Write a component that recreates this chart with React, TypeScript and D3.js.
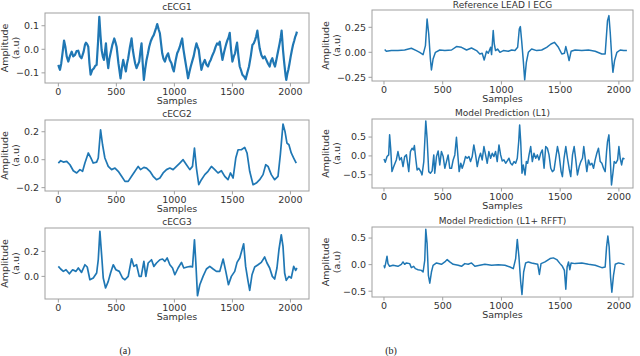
import React from 'react';
import * as d3 from 'd3';

type Pt = [number, number];

const xTicks = [0, 500, 1000, 1500, 2000];

// [sample, amplitude]
const cecg1: Pt[] = [[0,-0.066],[7,-0.078],[14,-0.087],[25,-0.06],[35,-0.02],[49,0.037],[60,0.012],[72,-0.03],[86,-0.052],[100,-0.028],[115,-0.010],[128,-0.03],[143,-0.024],[157,-0.008],[172,-0.006],[186,-0.03],[200,-0.038],[218,-0.01],[230,0.02],[238,0.028],[248,0.022],[258,0.011],[268,-0.06],[278,-0.108],[292,-0.088],[307,-0.080],[318,-0.07],[330,-0.066],[342,0.03],[353,0.138],[363,0.06],[373,-0.003],[383,-0.03],[393,-0.045],[402,-0.01],[410,0.025],[420,-0.04],[430,-0.080],[440,-0.04],[450,-0.017],[466,0.02],[482,0.046],[492,0.03],[502,0.011],[518,-0.06],[536,-0.123],[547,-0.08],[559,-0.045],[570,-0.07],[582,-0.094],[592,-0.06],[602,-0.038],[617,0.01],[631,0.046],[641,0.0],[651,-0.031],[662,-0.06],[674,-0.080],[686,-0.065],[697,-0.052],[707,-0.01],[717,0.025],[727,-0.06],[737,-0.130],[748,-0.085],[760,-0.045],[771,-0.02],[783,0.011],[797,0.035],[811,0.051],[822,0.06],[832,0.075],[842,0.09],[852,0.107],[864,0.085],[875,0.068],[885,0.025],[895,-0.017],[906,-0.04],[918,-0.052],[932,-0.03],[946,-0.017],[960,-0.045],[975,-0.059],[985,-0.08],[995,-0.094],[1010,-0.05],[1024,-0.017],[1035,-0.005],[1047,0.011],[1057,0.03],[1067,0.046],[1078,0.0],[1090,-0.038],[1104,-0.08],[1118,-0.123],[1130,-0.095],[1141,-0.073],[1154,-0.05],[1167,-0.028],[1178,0.0],[1190,0.025],[1200,0.01],[1210,-0.003],[1222,-0.05],[1233,-0.087],[1248,-0.06],[1262,-0.045],[1276,-0.065],[1290,-0.073],[1302,-0.055],[1313,-0.045],[1328,-0.025],[1342,-0.010],[1355,0.01],[1368,0.025],[1380,0.02],[1391,0.032],[1403,-0.01],[1414,-0.045],[1427,-0.015],[1440,0.011],[1448,0.025],[1457,0.039],[1467,0.05],[1477,0.070],[1488,0.0],[1500,-0.052],[1512,-0.03],[1523,-0.017],[1532,0.01],[1540,0.028],[1552,-0.03],[1563,-0.073],[1575,-0.09],[1586,-0.108],[1600,-0.115],[1614,-0.127],[1628,-0.1],[1643,-0.073],[1658,-0.03],[1672,0.018],[1684,0.025],[1695,0.039],[1705,0.055],[1715,0.079],[1725,0.04],[1735,0.004],[1750,-0.025],[1764,-0.038],[1778,-0.03],[1792,-0.045],[1806,-0.06],[1821,-0.073],[1832,-0.05],[1844,-0.038],[1856,-0.06],[1867,-0.073],[1877,-0.05],[1887,-0.024],[1897,0.0],[1907,0.025],[1916,0.05],[1924,0.079],[1930,0.04],[1936,-0.003],[1945,-0.05],[1953,-0.087],[1958,-0.11],[1964,-0.130],[1973,-0.105],[1982,-0.087],[1992,-0.06],[2002,-0.031],[2012,-0.005],[2022,0.018],[2032,0.035],[2042,0.054],[2049,0.062],[2056,0.075]];

const cecg2: Pt[] = [[0,-0.024],[20,-0.007],[43,-0.017],[72,-0.012],[100,-0.036],[129,-0.079],[158,-0.095],[186,-0.071],[209,-0.083],[229,-0.024],[258,0.048],[278,0.017],[301,-0.024],[330,-0.017],[344,0.012],[364,0.214],[381,0.107],[401,0.012],[430,-0.048],[459,-0.071],[488,-0.060],[516,-0.083],[545,-0.119],[574,-0.155],[602,-0.155],[631,-0.119],[660,-0.083],[688,-0.048],[708,-0.071],[737,-0.055],[760,-0.060],[789,-0.083],[817,-0.119],[846,-0.143],[875,-0.131],[903,-0.095],[932,-0.071],[961,-0.060],[989,-0.071],[1018,-0.048],[1047,-0.024],[1075,0.0],[1104,-0.036],[1133,-0.071],[1156,-0.048],[1173,0.083],[1190,-0.060],[1210,-0.179],[1233,-0.143],[1262,-0.107],[1290,-0.083],[1319,-0.048],[1348,-0.071],[1376,-0.095],[1405,-0.079],[1434,-0.119],[1462,-0.143],[1483,-0.095],[1506,-0.131],[1529,0.012],[1549,0.071],[1577,0.071],[1606,0.088],[1626,0.048],[1649,-0.083],[1678,-0.179],[1706,-0.167],[1735,-0.143],[1764,-0.107],[1787,-0.036],[1807,-0.048],[1835,-0.107],[1864,-0.143],[1893,-0.119],[1913,0.036],[1936,0.255],[1953,0.202],[1970,0.119],[1987,0.107],[2007,0.048],[2028,0.012],[2050,-0.024]];

const cecg3: Pt[] = [[0,0.080],[20,0.059],[43,0.040],[66,0.053],[95,0.021],[123,0.053],[152,0.040],[172,0.067],[200,0.032],[229,0.093],[249,0.075],[272,-0.027],[301,-0.013],[330,0.027],[344,0.133],[358,0.360],[376,0.133],[387,-0.013],[407,-0.093],[430,-0.040],[450,0.027],[473,0.093],[496,0.053],[525,0.040],[553,-0.013],[574,-0.027],[602,0.0],[631,0.141],[651,0.080],[674,0.093],[697,0.0],[714,0.0],[737,0.120],[754,0.0],[774,0.107],[803,0.133],[823,0.080],[846,0.107],[875,0.133],[898,0.139],[918,0.120],[938,0.147],[961,0.093],[984,0.067],[1004,0.013],[1032,0.067],[1061,0.112],[1081,0.067],[1110,0.075],[1139,0.080],[1156,0.075],[1173,0.293],[1185,0.107],[1199,-0.155],[1219,-0.067],[1247,0.0],[1276,0.059],[1305,0.080],[1334,0.059],[1362,0.040],[1391,0.040],[1420,0.139],[1443,0.040],[1466,-0.067],[1491,0.0],[1520,0.040],[1540,0.112],[1563,0.147],[1583,0.213],[1597,0.261],[1614,0.080],[1635,-0.040],[1649,-0.112],[1669,0.013],[1692,0.075],[1721,0.093],[1749,0.112],[1778,0.155],[1798,0.107],[1821,0.067],[1844,0.0],[1864,-0.021],[1884,0.067],[1901,0.213],[1921,0.333],[1936,0.240],[1950,0.027],[1964,-0.032],[1987,0.0],[2007,-0.013],[2028,0.080],[2045,0.048],[2056,0.067]];

const leadI: Pt[] = [[6,0.027],[20,0.010],[63,0.017],[119,0.017],[176,0.023],[233,0.040],[276,0.017],[304,0.0],[333,-0.023],[353,0.067],[367,0.333],[381,0.183],[395,-0.067],[404,-0.177],[418,-0.067],[438,0.0],[475,0.023],[518,0.017],[575,0.023],[617,0.057],[660,0.050],[703,0.023],[745,0.043],[788,0.017],[816,-0.017],[836,-0.010],[853,-0.077],[873,0.010],[888,-0.010],[908,0.050],[916,-0.023],[930,0.217],[939,0.083],[950,0.017],[967,0.033],[987,0.0],[1016,0.017],[1058,0.010],[1087,0.023],[1115,0.017],[1138,0.050],[1152,0.233],[1161,0.257],[1172,0.117],[1186,-0.083],[1198,-0.277],[1212,-0.100],[1229,0.0],[1257,0.033],[1300,0.017],[1343,0.023],[1385,0.050],[1422,0.083],[1451,0.100],[1485,0.050],[1514,-0.017],[1536,-0.010],[1548,0.057],[1565,-0.023],[1576,-0.083],[1593,0.010],[1627,0.023],[1684,0.017],[1741,0.023],[1798,0.010],[1855,-0.017],[1883,-0.017],[1903,0.317],[1915,0.367],[1926,0.200],[1940,-0.067],[1949,-0.200],[1963,-0.083],[1983,0.0],[2011,0.023],[2040,0.017],[2068,0.017]];

const predL1: Pt[] = [[0,-0.080],[11,-0.168],[26,-0.018],[40,0.027],[48,0.558],[57,0.204],[68,-0.416],[83,-0.283],[105,-0.106],[119,0.115],[134,-0.106],[148,-0.044],[162,-0.283],[176,-0.018],[191,0.027],[199,-0.150],[211,-0.416],[225,0.115],[239,0.204],[250,0.159],[259,0.274],[270,-0.062],[282,-0.372],[296,-0.327],[313,-0.416],[324,-0.504],[339,-0.150],[356,0.929],[367,0.469],[381,-0.416],[395,-0.460],[410,-0.398],[424,0.027],[432,-0.460],[447,-0.018],[461,0.133],[475,-0.239],[489,0.115],[504,-0.018],[518,-0.327],[532,-0.150],[546,0.027],[560,-0.327],[575,-0.327],[589,-0.106],[603,0.027],[617,0.496],[632,-0.106],[640,-0.416],[654,-0.195],[666,-0.327],[680,-0.195],[694,-0.018],[708,-0.062],[723,-0.018],[737,-0.150],[751,-0.018],[765,0.292],[780,0.027],[794,-0.283],[808,-0.062],[822,0.071],[836,-0.106],[851,0.248],[865,0.027],[879,-0.195],[893,0.115],[908,-0.062],[922,0.071],[936,-0.018],[950,0.115],[964,-0.150],[979,0.292],[993,0.027],[1007,-0.133],[1021,-0.106],[1036,-0.195],[1050,-0.133],[1064,-0.062],[1078,-0.195],[1092,-0.239],[1107,-0.150],[1121,-0.195],[1135,-0.062],[1147,0.381],[1155,0.823],[1164,0.381],[1175,-0.460],[1186,-0.239],[1201,-0.504],[1212,-0.150],[1223,-0.195],[1235,0.027],[1249,0.248],[1263,-0.150],[1277,0.071],[1292,-0.062],[1306,0.027],[1320,-0.106],[1334,0.071],[1348,0.159],[1363,-0.327],[1377,0.248],[1391,0.204],[1405,0.027],[1420,-0.327],[1434,-0.416],[1448,-0.372],[1462,-0.062],[1477,0.248],[1491,0.027],[1508,-0.416],[1519,-0.549],[1533,-0.062],[1548,0.248],[1562,-0.062],[1576,-0.327],[1590,-0.549],[1605,0.027],[1619,0.248],[1633,-0.106],[1647,-0.504],[1662,-0.283],[1676,-0.150],[1690,-0.062],[1701,0.248],[1713,-0.062],[1727,-0.416],[1741,-0.106],[1755,-0.239],[1770,-0.195],[1784,-0.327],[1798,-0.106],[1812,0.071],[1826,0.204],[1841,-0.150],[1855,-0.195],[1869,-0.327],[1883,-0.416],[1895,0.115],[1903,0.381],[1915,0.558],[1926,-0.062],[1937,-0.770],[1949,-0.460],[1960,-0.150],[1974,-0.195],[1989,-0.106],[2000,0.248],[2011,-0.062],[2023,-0.239],[2034,-0.062],[2048,-0.080]];

const predRfft: Pt[] = [[0,-0.013],[6,-0.057],[14,0.019],[26,0.158],[34,0.019],[48,-0.032],[77,-0.013],[119,-0.032],[148,0.006],[162,0.051],[176,0.006],[191,0.032],[219,0.019],[233,-0.057],[253,-0.032],[267,-0.076],[290,-0.095],[319,-0.108],[333,-0.139],[347,0.082],[356,0.665],[367,0.399],[378,-0.203],[390,-0.348],[404,-0.139],[418,-0.013],[447,0.032],[489,0.006],[518,0.051],[538,0.095],[560,0.051],[589,0.006],[632,-0.013],[660,-0.032],[688,0.019],[717,0.006],[745,0.032],[774,-0.032],[816,-0.013],[859,0.006],[916,-0.013],[973,0.0],[1030,-0.013],[1073,-0.044],[1101,-0.076],[1121,0.114],[1135,0.475],[1149,0.146],[1164,-0.329],[1175,-0.563],[1189,-0.139],[1206,0.032],[1229,0.051],[1257,0.032],[1309,0.006],[1323,-0.184],[1337,0.019],[1371,0.051],[1414,0.114],[1442,0.127],[1471,0.095],[1499,0.019],[1519,-0.032],[1536,-0.108],[1548,-0.462],[1559,-0.044],[1571,0.051],[1582,-0.095],[1593,0.032],[1627,0.019],[1684,0.032],[1741,0.006],[1798,-0.013],[1855,-0.057],[1883,-0.044],[1895,0.335],[1906,0.538],[1917,0.335],[1929,-0.234],[1940,-0.519],[1954,-0.203],[1969,0.006],[1997,0.032],[2026,0.019],[2048,0.0]];

const panels = [
  { title: 'cECG1', data: cecg1, col: 0, top: 13, bottom: 83, yDom: [-0.143, 0.154], yTicks: [-0.1, 0, 0.1], fmt: '.1f', sw: 2.2 },
  { title: 'cECG2', data: cecg2, col: 0, top: 120, bottom: 191, yDom: [-0.224, 0.284], yTicks: [-0.2, 0, 0.2], fmt: '.1f', sw: 1.7 },
  { title: 'cECG3', data: cecg3, col: 0, top: 228, bottom: 299, yDom: [-0.181, 0.387], yTicks: [0, 0.2], fmt: '.1f', sw: 1.7 },
  { title: 'Reference LEAD I ECG', data: leadI, col: 1, top: 10, bottom: 81, yDom: [-0.287, 0.423], yTicks: [-0.25, 0, 0.25], fmt: '.2f', sw: 1.5 },
  { title: 'Model Prediction (L1)', data: predL1, col: 1, top: 119, bottom: 188, yDom: [-0.851, 0.979], yTicks: [-0.5, 0, 0.5], fmt: '.1f', sw: 1.5 },
  { title: 'Model Prediction (L1+ RFFT)', data: predRfft, col: 1, top: 227, bottom: 297, yDom: [-0.609, 0.708], yTicks: [-0.5, 0, 0.5], fmt: '.1f', sw: 1.5 },
];

const cols = [
  { left: 45, right: 309, xDom: [-115, 2160], lab1: 5, lab2: 16 },
  { left: 372, right: 633, xDom: [-102, 2120], lab1: 326, lab2: 337 },
];

const font = 'DejaVu Sans, sans-serif';
const txt = '#333';
const frame = '#a0a0a0';

const Panel = ({ p }: { p: typeof panels[number] }) => {
  const c = cols[p.col];
  const x = d3.scaleLinear().domain(c.xDom).range([c.left, c.right]);
  const y = d3.scaleLinear().domain(p.yDom).range([p.bottom, p.top]);
  const line = d3.line<Pt>().x(d => x(d[0])).y(d => y(d[1]));
  const f = d3.format(p.fmt);
  const midY = (p.top + p.bottom) / 2;
  const midX = (c.left + c.right) / 2;
  return (
    <g fontFamily={font} fill={txt}>
      <text x={midX} y={Math.max(p.top - 3.5, 8)} textAnchor="middle" fontSize={9}>{p.title}</text>
      <path d={line(p.data) || ''} fill="none" stroke="#1f77b4" strokeWidth={p.sw} strokeLinejoin="round" />
      <rect x={c.left} y={p.top} width={c.right - c.left} height={p.bottom - p.top} fill="none" stroke={frame} strokeWidth={1} />
      {xTicks.map(t => (
        <g key={t}>
          <line x1={x(t)} x2={x(t)} y1={p.bottom} y2={p.bottom + 3.5} stroke={frame} />
          <text x={x(t)} y={p.bottom + 11.5} textAnchor="middle" fontSize={9.5}>{t}</text>
        </g>
      ))}
      {p.yTicks.map(t => (
        <g key={t}>
          <line x1={c.left - 3.5} x2={c.left} y1={y(t)} y2={y(t)} stroke={frame} />
          <text x={c.left - 6} y={y(t) + 3.3} textAnchor="end" fontSize={9.5}>{f(t).replace('-', '\u2212')}</text>
        </g>
      ))}
      <text x={midX} y={p.bottom + 21} textAnchor="middle" fontSize={9.5}>Samples</text>
      <text transform={`translate(${c.lab1 + 3},${midY}) rotate(-90)`} textAnchor="middle" fontSize={9.5}>Amplitude</text>
      <text transform={`translate(${c.lab2 + 3},${midY}) rotate(-90)`} textAnchor="middle" fontSize={9.5}>(a.u)</text>
    </g>
  );
};

export default function App() {
  return (
    <svg width={640} height={356} style={{ position: 'absolute', left: 0, top: 0, background: '#fff' }}>
      {panels.map(p => <Panel key={p.title} p={p} />)}
      <text x={125} y={354} textAnchor="middle" fontSize={10} fontFamily="Liberation Serif, serif" fill="#222">(a)</text>
      <text x={391} y={354} textAnchor="middle" fontSize={10} fontFamily="Liberation Serif, serif" fill="#222">(b)</text>
    </svg>
  );
}
